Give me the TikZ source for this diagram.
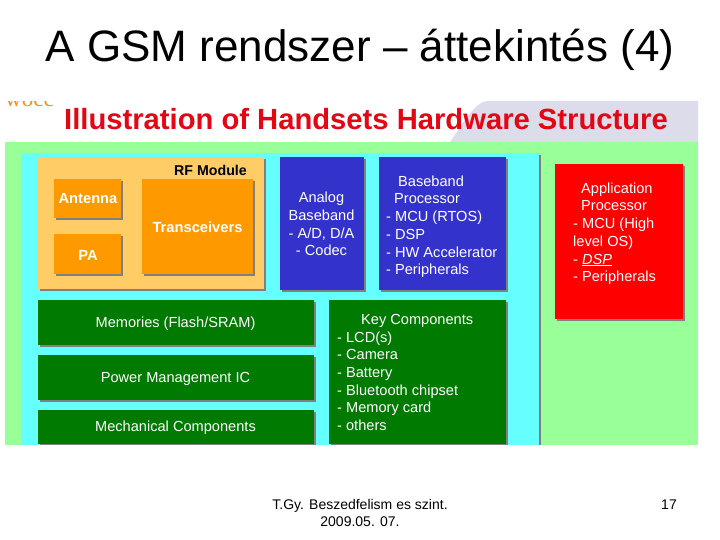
\documentclass[tikz,border=0pt]{standalone}
\usepackage{fontspec}
\setmainfont{Liberation Sans}
\newfontfamily\logofont{Liberation Serif}
\usetikzlibrary{shadows}
\definecolor{bggreen}{HTML}{99FF99}
\definecolor{bgcyan}{HTML}{66FFFF}
\definecolor{bggray}{HTML}{DCDCEA}
\definecolor{rfpale}{HTML}{FFCC66}
\definecolor{rforange}{HTML}{FF9900}
\definecolor{chipblue}{HTML}{3333CC}
\definecolor{chipgreen}{HTML}{007A00}
\definecolor{chipred}{HTML}{FF0000}
\definecolor{titlered}{HTML}{E30613}
\definecolor{shadowgray}{HTML}{808080}
\tikzset{
  x=1pt,y=-1pt,
  panel/.style={draw=none,inner sep=0pt,anchor=north west,
    general shadow={shadow xshift=2pt,shadow yshift=-2pt,fill=shadowgray}},
  lbl/.style={text=white,font=\fontsize{14.6}{18}\selectfont,inner sep=0pt},
  lblb/.style={text=white,font=\fontsize{14.7}{18}\selectfont\bfseries,inner sep=0pt},
  lsmall/.style={text=white,font=\fontsize{14.6}{17.7}\selectfont,inner sep=0pt,align=left},
}
\newcommand{\panelbox}[7]{%
  \node[panel,fill=#6,minimum width=#4pt-#2pt,minimum height=#5pt-#3pt] (#1) at (#2,#3) {#7};}
\begin{document}
\begin{tikzpicture}
\useasboundingbox (0,0) rectangle (720,540);
\fill[white] (0,0) rectangle (720,540);
% title
\node[inner sep=0pt,font=\fontsize{44}{48}\selectfont,text=black,anchor=base] (title) at (360,62) {A GSM rendszer – áttekintés (4)};
% logo
\node[inner sep=0pt,font=\logofont\fontsize{23}{23}\selectfont,text=rforange!80!brown,anchor=base west] (logo) at (5,107) {wocc};
\fill[white] (0,85) rectangle (60,101);
% backgrounds
\fill[bggray] (450,142) .. controls (462,125) and (475,101) .. (488,101) -- (698,101) -- (698,142) -- cycle;
\fill[bggreen] (5,142) rectangle (698,445);
\fill[shadowgray] (539,155) rectangle (541,445);
\node[draw=none,fill=bgcyan,inner sep=0pt,anchor=north west,minimum width=518pt,minimum height=292pt] (board) at (21,153) {};
\node[inner sep=0pt,font=\fontsize{29.2}{32}\selectfont\bfseries,text=titlered] (subtitle) at (366,119) {Illustration of Handsets Hardware Structure};
% RF module
\panelbox{rf}{38}{157}{264}{289}{rfpale}{}
\panelbox{ant}{54}{179}{121}{218}{rforange}{}
\panelbox{pa}{54}{234}{121}{274}{rforange}{}
\panelbox{trx}{142}{179}{253}{274}{rforange}{}
\node[inner sep=0pt,font=\fontsize{14.2}{16}\selectfont\bfseries,text=black] (rftext) at (210.5,170.5) {RF Module};
\node[lblb] (anttext) at (88,199) {Antenna};
\node[lblb] (patext) at (88,255) {PA};
\node[lblb] (trxtext) at (197.5,227) {Transceivers};
% blue
\panelbox{abb}{280}{157}{364}{290}{chipblue}{}
\panelbox{bbp}{379}{157}{506}{290}{chipblue}{}
\node[lsmall,align=center] (abbtext) at (321.5,224) {Analog\\Baseband\\- A/D, D/A\\- Codec};
\node[lsmall,anchor=north west] (bbptext) at (386,175.5) {\hspace*{12pt}Baseband\\\hspace*{8pt}Processor\\- MCU (RTOS)\\- DSP\\- HW Accelerator\\- Peripherals};
% red
\panelbox{app}{555}{164}{683}{319}{chipred}{}
\node[lsmall,anchor=north west] (apptext) at (573,182.5) {\hspace*{8pt}Application\\\hspace*{8pt}Processor\\- MCU (High\\level OS)\\- \underline{\textit{DSP}}\\- Peripherals};
% green
\panelbox{mem}{38}{300}{314}{345}{chipgreen}{}
\panelbox{pow}{38}{355}{314}{400}{chipgreen}{}
\panelbox{mech}{38}{410}{314}{444}{chipgreen}{}
\panelbox{key}{329}{300}{506}{444}{chipgreen}{}
\node[lbl] (memtext) at (175.5,324) {Memories (Flash/SRAM)};
\node[lbl] (powtext) at (175.5,379) {Power Management IC};
\node[lbl] (mechtext) at (175.5,428) {Mechanical Components};
\node[lsmall,anchor=north west] (keytext) at (337,314) {\hspace*{24pt}Key Components\\- LCD(s)\\- Camera\\- Battery\\- Bluetooth chipset\\- Memory card\\- others};
\fill[white] (0,445) rectangle (720,449);
% footer
\node[inner sep=0pt,font=\fontsize{14}{17}\selectfont,align=center,text=black] (foot) at (360,513) {T.Gy. Beszedfelism es szint.\\2009.05. 07.};
\node[inner sep=0pt,font=\fontsize{14}{17}\selectfont,text=black] (page) at (669,505) {17};
\end{tikzpicture}
\end{document}
